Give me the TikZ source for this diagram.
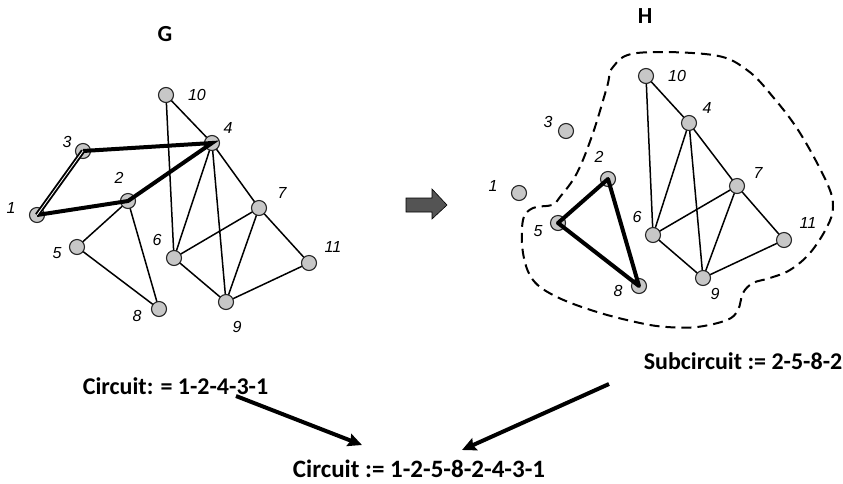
\documentclass[tikz,border=0pt]{standalone}
\usepackage{fontspec}
\setmainfont{Carlito}
\newfontfamily\lblfont{Liberation Sans}
\usetikzlibrary{arrows.meta,backgrounds}
\tikzset{
  vtx/.style={circle,draw=black!85,line width=1.1pt,fill=black!22,minimum size=15pt,inner sep=0pt},
  lbl/.style={font=\lblfont\itshape\fontsize{16}{19}\selectfont,inner sep=0pt},
  title/.style={font=\bfseries\fontsize{23}{27}\selectfont,inner sep=0pt},
  eqtext/.style={font=\bfseries\fontsize{24}{28}\selectfont,inner sep=0pt},
  edge/.style={line width=1.5pt},
  thick edge/.style={line width=4pt},
  dbl edge/.style={line width=1.9pt,double=white,double distance=0.8pt},
  bigarrow/.style={line width=4pt,-{Stealth[length=14pt,width=13pt,inset=2pt]}},
  blob/.style={line width=2pt,dash pattern=on 10pt off 6pt},
}
\begin{document}
\begin{tikzpicture}[x=1pt,y=-1pt]
\useasboundingbox (0,0) rectangle (843,483);
% ---------- Graph G ----------
\node[title] (tG) at (165,34) {G};
\node[vtx] (g1) at (37,215) {};
\node[vtx] (g2) at (128,201) {};
\node[vtx] (g3) at (83,151) {};
\node[vtx] (g4) at (212,143) {};
\node[vtx] (g5) at (77,247) {};
\node[vtx] (g6) at (174,258) {};
\node[vtx] (g7) at (259,208) {};
\node[vtx] (g8) at (159,309) {};
\node[vtx] (g9) at (226,302) {};
\node[vtx] (g10) at (166,95) {};
\node[vtx] (g11) at (309,263) {};
\node[lbl] (gl1) at (11,208) {1};
\node[lbl] (gl2) at (119,178) {2};
\node[lbl] (gl3) at (67,142) {3};
\node[lbl] (gl4) at (228,128) {4};
\node[lbl] (gl5) at (57,253) {5};
\node[lbl] (gl6) at (157,240) {6};
\node[lbl] (gl7) at (282,193) {7};
\node[lbl] (gl8) at (137,316) {8};
\node[lbl] (gl9) at (237,327) {9};
\node[lbl] (gl10) at (197,95) {10};
\node[lbl] (gl11) at (333,247) {11};
\begin{pgfonlayer}{background}
\foreach \a/\b in {10/4,10/6,2/5,2/8,5/8,4/6,4/9,4/7,7/6,7/9,7/11,6/9,9/11}
  \draw[edge] (g\a.center) -- (g\b.center);
\end{pgfonlayer}
\draw[thick edge] (g1.center) -- (g2.center) -- (g4.center) -- (g3.center);
\draw[dbl edge] (g1.center) -- (g3.center);
% ---------- block arrow ----------
\draw[fill=black!67,line width=0.6pt] (406,198) -- (432,198) -- (432,189) -- (447,205)
  -- (432,219) -- (432,212) -- (406,212) -- cycle;
% ---------- Graph H ----------
\node[title] (tH) at (645,16) {H};
\draw[blob] plot[smooth cycle,tension=0.6] coordinates {
  (613,67) (637,53) (713,55) (747,70) (773,97) (800,133) (827,183) (833,207)
  (827,227) (810,253) (790,270) (770,278) (753,283) (743,293) (738,310) (727,320)
  (697,327) (667,327) (640,323) (597,312) (557,297) (533,280) (523,253) (523,220)
  (533,208) (552,205) (560,197) (577,173) (593,133) (607,87)};
\node[vtx] (h1) at (519,193) {};
\node[vtx] (h2) at (608,179) {};
\node[vtx] (h3) at (566,131) {};
\node[vtx] (h4) at (689,123) {};
\node[vtx] (h5) at (558,223) {};
\node[vtx] (h6) at (653,235) {};
\node[vtx] (h7) at (737,186) {};
\node[vtx] (h8) at (639,286) {};
\node[vtx] (h9) at (703,278) {};
\node[vtx] (h10) at (646,76) {};
\node[vtx] (h11) at (784,240) {};
\node[lbl] (hl1) at (493,186) {1};
\node[lbl] (hl2) at (599,157) {2};
\node[lbl] (hl3) at (548,122) {3};
\node[lbl] (hl4) at (707,108) {4};
\node[lbl] (hl5) at (538,231) {5};
\node[lbl] (hl6) at (637,217) {6};
\node[lbl] (hl7) at (758,173) {7};
\node[lbl] (hl8) at (618,291) {8};
\node[lbl] (hl9) at (715,294) {9};
\node[lbl] (hl10) at (677,76) {10};
\node[lbl] (hl11) at (808,223) {11};
\begin{pgfonlayer}{background}
\foreach \a/\b in {10/4,10/6,4/6,4/9,4/7,7/6,7/9,7/11,6/9,9/11}
  \draw[edge] (h\a.center) -- (h\b.center);
\end{pgfonlayer}
\draw[thick edge,line join=round] (h2.center) -- (h5.center) -- (h8.center) -- cycle;
% ---------- texts ----------
\node[eqtext] (sub) at (743,361) {Subcircuit := 2-5-8-2};
\node[eqtext] (circ1) at (175.5,386) {Circuit: = 1-2-4-3-1};
\node[eqtext,font=\bfseries\fontsize{25}{29}\selectfont] (circ2) at (419,469) {Circuit := 1-2-5-8-2-4-3-1};
\coordinate (a1s) at (236,396);
\coordinate (a1e) at (362,445);
\coordinate (a2s) at (609,384);
\coordinate (a2e) at (462,450);
\draw[bigarrow] (a1s) -- (a1e);
\draw[bigarrow] (a2s) -- (a2e);
\end{tikzpicture}
\end{document}
